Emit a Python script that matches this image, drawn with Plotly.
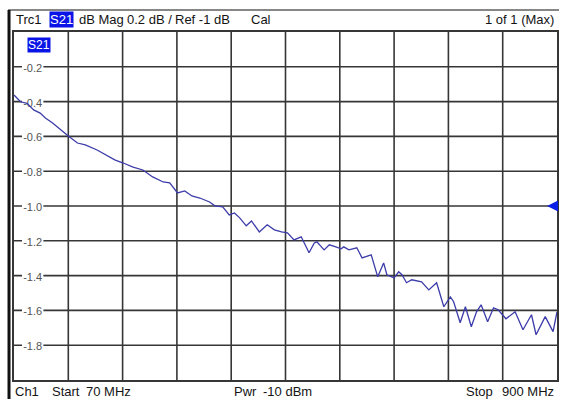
import plotly.graph_objects as go

# Sweep settings
START_MHZ = 70
STOP_MHZ = 900
REF_LEVEL_DB = -1.0
SCALE_DB_PER_DIV = 0.2
N_DIV = 10

# Measured S21 magnitude trace
FREQ_MHZ = [70, 80, 90, 100, 110, 118, 129, 138, 153, 167, 179, 197, 212, 224, 237,
            252, 267, 282, 298, 308, 320, 331, 342, 354, 369, 377, 389, 399, 407, 415,
            425, 433, 445, 457, 468, 479, 488, 498, 509, 521, 529, 533, 544, 552, 562,
            570, 574, 582, 594, 602, 616, 626, 635, 640, 651, 658, 663, 670, 678, 686,
            693, 704, 716, 727, 737, 742, 752, 760, 769, 777, 784, 794, 803, 810, 822,
            836, 848, 861, 868, 882, 894, 900]
S21_DB = [-0.362, -0.401, -0.41, -0.448, -0.466, -0.494, -0.523, -0.552, -0.598, -0.638,
          -0.649, -0.678, -0.712, -0.735, -0.753, -0.776, -0.793, -0.833, -0.862, -0.867,
          -0.925, -0.913, -0.942, -0.954, -0.977, -0.999, -1.005, -1.051, -1.04, -1.068,
          -1.114, -1.086, -1.149, -1.108, -1.137, -1.149, -1.154, -1.195, -1.177, -1.269,
          -1.212, -1.206, -1.252, -1.223, -1.235, -1.246, -1.235, -1.252, -1.24, -1.298,
          -1.281, -1.407, -1.327, -1.395, -1.413, -1.378, -1.395, -1.441, -1.424, -1.43,
          -1.436, -1.482, -1.441, -1.579, -1.522, -1.55, -1.671, -1.579, -1.694, -1.608,
          -1.568, -1.665, -1.585, -1.596, -1.648, -1.608, -1.711, -1.625, -1.74, -1.636,
          -1.722, -1.608]

Y_TICKS = [-0.2, -0.4, -0.6, -0.8, -1.0, -1.2, -1.4, -1.6, -1.8]

HEADER = [("Trc1", 14, "left"), ("dB Mag", 77, "left"), ("0.2 dB /", 125, "left"),
          ("Ref -1 dB", 174, "left"), ("Cal", 250, "left"), ("1 of 1 (Max)", 558, "right")]
FOOTER = [("Ch1", 13, "left"), ("Start", 50, "left"), ("70 MHz", 84, "left"),
          ("Pwr", 233, "left"), ("-10 dBm", 262, "left"), ("Stop", 466, "left"),
          ("900 MHz", 558, "right")]

W, H = 561, 399
ML, MR, MT, MB = 14, 2, 32, 19
PW, PH = W - ML - MR, H - MT - MB

def px_x(px):
    return (px - ML) / PW

def px_y(py):
    return (H - MB - py) / PH

GRID = "#363636"
TEXT = "#141414"
FONT = "Liberation Sans, Arial, sans-serif"

y_top = REF_LEVEL_DB + SCALE_DB_PER_DIV * N_DIV / 2
y_bot = REF_LEVEL_DB - SCALE_DB_PER_DIV * N_DIV / 2
x_step = (STOP_MHZ - START_MHZ) / N_DIV

fig = go.Figure()
fig.add_trace(go.Scatter(x=FREQ_MHZ, y=S21_DB, mode="lines",
                         line=dict(color="#3c3caa", width=1.3),
                         hoverinfo="skip", showlegend=False))

fig.update_xaxes(range=[START_MHZ, STOP_MHZ], showticklabels=False, ticks="",
                 showgrid=False, showline=True, mirror=True, linecolor=GRID,
                 linewidth=1.5, zeroline=False, fixedrange=True)
fig.update_yaxes(range=[y_bot, y_top], showticklabels=False, ticks="",
                 showgrid=False, showline=True, mirror=True, linecolor=GRID,
                 linewidth=1.5, zeroline=False, fixedrange=True)

shapes = []
# Graticule, drawn beneath the trace
for k in range(1, N_DIV):
    xv = START_MHZ + k * x_step
    shapes.append(dict(type="line", layer="below", xref="x", yref="y domain",
                       x0=xv, x1=xv, y0=0, y1=1, line=dict(color=GRID, width=1.6)))
for v in Y_TICKS:
    shapes.append(dict(type="line", layer="below", xref="x domain", yref="y",
                       x0=0, x1=1, y0=v, y1=v, line=dict(color=GRID, width=1.6)))
# Scale labels on white patches over the graticule
for v in Y_TICKS:
    shapes.append(dict(type="rect", layer="below", xref="x domain", yref="y",
                       x0=px_x(22), x1=px_x(43.5), y0=v - 0.03, y1=v + 0.03,
                       fillcolor="white", line=dict(width=0),
                       label=dict(text=f"{v:.1f}", textposition="middle center",
                                  font=dict(size=11, color="#555555", family=FONT))))

# Reference level marker on the right edge
tip = 1 - 10 / PW
half = 5.5 / PH * (y_top - y_bot)
shapes.append(dict(type="path", xref="x domain", yref="y",
                   path=f"M {tip},{REF_LEVEL_DB} L 1.002,{REF_LEVEL_DB + half} "
                        f"L 1.002,{REF_LEVEL_DB - half} Z",
                   fillcolor="#0a1ee6", line=dict(width=0)))

# Window frame
shapes.append(dict(type="line", xref="paper", yref="paper",
                   x0=px_x(8), x1=px_x(561), y0=px_y(10), y1=px_y(10),
                   line=dict(color="#111111", width=1.2)))
shapes.append(dict(type="line", xref="paper", yref="paper",
                   x0=px_x(9), x1=px_x(9), y0=px_y(10), y1=px_y(399),
                   line=dict(color="#111111", width=3)))

annotations = []
for text, xpx, anchor in HEADER:
    annotations.append(dict(text=text, xref="paper", yref="paper", x=px_x(xpx),
                            y=px_y(20), xanchor=anchor, yanchor="middle",
                            showarrow=False, font=dict(size=13, color=TEXT, family=FONT)))
annotations.append(dict(text="S21", xref="paper", yref="paper", x=px_x(49), y=px_y(20),
                        xanchor="left", yanchor="middle", showarrow=False,
                        bgcolor="#0a14e6", borderpad=0,
                        font=dict(size=13, color="white", family=FONT)))
annotations.append(dict(text="S21", xref="paper", yref="paper", x=px_x(39), y=px_y(45),
                        xanchor="center", yanchor="middle", showarrow=False,
                        bgcolor="#0a14e6", borderpad=0,
                        font=dict(size=12, color="white", family=FONT)))
for text, xpx, anchor in FOOTER:
    annotations.append(dict(text=text, xref="paper", yref="paper", x=px_x(xpx),
                            y=px_y(391.5), xanchor=anchor, yanchor="middle",
                            showarrow=False, font=dict(size=13, color=TEXT, family=FONT)))

fig.update_layout(width=W, height=H, margin=dict(l=ML, r=MR, t=MT, b=MB),
                  paper_bgcolor="white", plot_bgcolor="white",
                  shapes=shapes, annotations=annotations, showlegend=False)

fig.write_html("out.html", config={"displayModeBar": False})
